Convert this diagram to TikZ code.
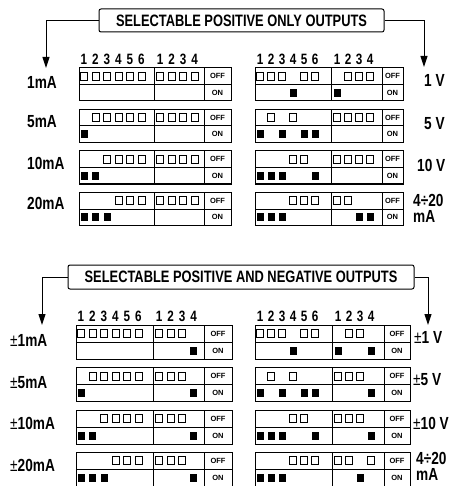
\documentclass[tikz,border=0pt]{standalone}
\usepackage{fontspec}
\setmainfont{Liberation Sans}
\newfontfamily\condfont[FakeStretch=0.78]{Liberation Sans}
\usepackage{tikz}
\usetikzlibrary{arrows.meta, positioning}

% one DIP switch table: left, divider 1, divider 2, right, top, height, pitch, states, name
\newcommand{\dipunit}[9]{%
  \draw[dipframe] (#1,#5) rectangle (#4,#5+#6);
  \draw[dipframe] (#1,#5+#6/2) -- (#4,#5+#6/2);
  \draw[dipframe] (#2,#5) -- (#2,#5+#6) (#3,#5) -- (#3,#5+#6);
  \node[swlabel] (#9off) at ({(#3+#4)/2},{#5+#6/4}) {OFF};
  \node[swlabel] (#9on) at ({(#3+#4)/2},{#5+3*#6/4}) {ON};
  \foreach \s [count=\i] in {#8} {
    \ifnum\i<7 \pgfmathsetmacro{\xx}{#1+1.5+(\i-1)*#7}\else\pgfmathsetmacro{\xx}{#2+2.5+(\i-7)*#7}\fi
    \ifnum\s=0 \draw[offsw] (\xx,{#5+#6/4-4}) rectangle ++(7,8);
    \else \fill (\xx,{#5+3*#6/4-4}) rectangle ++(7,8); \fi
  }%
}
% switch numbers above a table: left, divider 1, top, pitch, name
\newcommand{\dipheader}[5]{%
  \foreach \n in {1,...,6} \node[digit] (#5a\n) at ({#1+5+(\n-1)*#4},{#3-9}) {\n};
  \foreach \n in {1,...,4} \node[digit] (#5b\n) at ({#2+6+(\n-1)*#4},{#3-9}) {\n};
}

\begin{document}
\begin{tikzpicture}[
  x=1pt, y=-1pt,
  titlebox/.style={draw, line width=1pt, rounded corners=2pt, inner sep=0pt,
    font=\fontsize{16.5}{18}\condfont\bfseries},
  dipframe/.style={line width=1pt},
  offsw/.style={line width=0.7pt},
  swlabel/.style={inner sep=0pt, font=\fontsize{7.5}{8}\selectfont\bfseries},
  digit/.style={inner sep=0pt, font=\fontsize{15}{16}\condfont\bfseries},
  rangelabel/.style={inner sep=0pt, anchor=west, align=left,
    font=\fontsize{17.5}{16.5}\condfont\bfseries},
  feed/.style={line width=1pt, -{Triangle[length=11pt,width=7pt]}}
]
\useasboundingbox (0,0) rectangle (453,486);

% positive only
\node[titlebox, minimum width=285, minimum height=23] (posonly) at (241.5,20.5) {SELECTABLE POSITIVE ONLY OUTPUTS};
\coordinate (posL) at (46,68);
\coordinate (posR) at (424,67);
\draw[feed] (posonly.west) -| (posL);
\draw[feed] (posonly.east) -| (posR);

\dipheader{79}{154}{68}{11.5}{hpl}
\dipheader{255}{331}{68}{11}{hpr}
\dipunit{79}{154}{204}{231}{68}{33}{11.5}{0,0,0,0,0,0,0,0,0,0}{pa}
\dipunit{79}{154}{204}{231}{109.5}{33}{11.5}{1,0,0,0,0,0,0,0,0,0}{pb}
\dipunit{79}{154}{204}{231}{151}{33}{11.5}{1,1,0,0,0,0,0,0,0,0}{pc}
\dipunit{79}{154}{204}{231}{192.5}{33}{11.5}{1,1,1,0,0,0,0,0,0,0}{pd}
\dipunit{255}{331}{382}{403}{68}{33}{11}{0,0,0,1,0,0,1,0,0,0}{pe}
\dipunit{255}{331}{382}{403}{109.5}{33}{11}{1,0,1,0,1,1,0,0,0,0}{pf}
\dipunit{255}{331}{382}{403}{151}{33}{11}{1,1,1,0,0,1,0,0,0,0}{pg}
\dipunit{255}{331}{382}{403}{192.5}{33}{11}{1,1,1,0,0,0,0,0,1,1}{ph}

\node[rangelabel] (p1ma) at (27,82) {1mA};
\node[rangelabel] (p5ma) at (27,122) {5mA};
\node[rangelabel] (p10ma) at (27,163) {10mA};
\node[rangelabel] (p20ma) at (27,203.5) {20mA};
\node[rangelabel] (p1v) at (424,80) {1 V};
\node[rangelabel] (p5v) at (424,124) {5 V};
\node[rangelabel] (p10v) at (417,165) {10 V};
\node[rangelabel] (p420) at (413,208.5) {4÷20\\mA};

% positive and negative
\node[titlebox, minimum width=346, minimum height=24] (posneg) at (241,277) {SELECTABLE POSITIVE AND NEGATIVE OUTPUTS};
\coordinate (negL) at (42,325);
\coordinate (negR) at (428,325);
\draw[feed] (posneg.west) -| (negL);
\draw[feed] (posneg.east) -| (negR);

\dipheader{76}{153}{325}{11.5}{hnl}
\dipheader{255}{332}{325}{11}{hnr}
\dipunit{76}{153}{204}{232}{325}{34}{11.5}{0,0,0,0,0,0,0,0,0,1}{na}
\dipunit{76}{153}{204}{232}{367.5}{34}{11.5}{1,0,0,0,0,0,0,0,0,1}{nb}
\dipunit{76}{153}{204}{232}{410}{34}{11.5}{1,1,0,0,0,0,0,0,0,1}{nc}
\dipunit{76}{153}{204}{232}{452}{34}{11.5}{1,1,1,0,0,0,0,0,0,1}{nd}
\dipunit{255}{332}{384}{410}{325}{34}{11}{0,0,0,1,0,0,1,0,0,1}{ne}
\dipunit{255}{332}{384}{410}{367.5}{34}{11}{1,0,1,0,1,1,0,0,0,1}{nf}
\dipunit{255}{332}{384}{410}{410}{34}{11}{1,1,1,0,0,1,0,0,0,1}{ng}
\dipunit{255}{332}{384}{410}{452}{34}{11}{1,1,1,0,0,0,0,0,1,0}{nh}

\node[rangelabel] (n1ma) at (10,340) {{\mdseries ±}1mA};
\node[rangelabel] (n5ma) at (10,383) {{\mdseries ±}5mA};
\node[rangelabel] (n10ma) at (10,423) {{\mdseries ±}10mA};
\node[rangelabel] (n20ma) at (10,465) {{\mdseries ±}20mA};
\node[rangelabel] (n1v) at (414,337) {{\mdseries ±}1 V};
\node[rangelabel] (n5v) at (413,380) {{\mdseries ±}5 V};
\node[rangelabel] (n10v) at (413,423) {{\mdseries ±}10 V};
\node[rangelabel] (n420) at (416,466.5) {4÷20\\mA};
\end{tikzpicture}
\end{document}
